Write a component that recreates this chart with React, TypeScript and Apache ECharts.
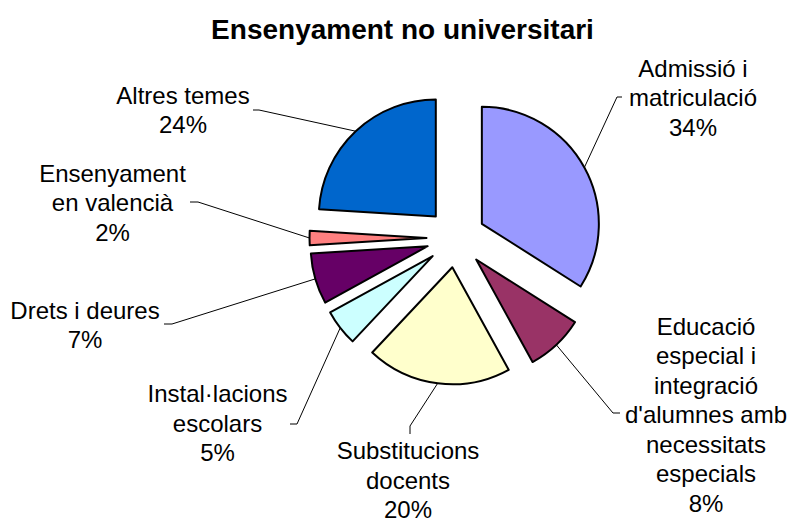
import React, { useEffect, useRef } from "react";
import * as echarts from "echarts";

const TITLE = "Ensenyament no universitari";
const categories = [
  "Admissió i\nmatriculació",
  "Educació\nespecial i\nintegració\nd'alumnes amb\nnecessitats\nespecials",
  "Substitucions\ndocents",
  "Instal·lacions\nescolars",
  "Drets i deures",
  "Ensenyament\nen valencià",
  "Altres temes",
];
const values = [34, 8, 20, 5, 7, 2, 24];
const colors = ["#9999FF", "#993366", "#FFFFCC", "#CCFFFF", "#660066", "#FF8080", "#0066CC"];

// layout (positions of label blocks and leader-line elbows)
const CENTER = [456, 238];
const RADIUS = 117;
const EXPLODE = 29.5;
const labelCenters = [
  [693, 97.5],
  [706, 414.5],
  [408, 480],
  [217.5, 423],
  [85, 325],
  [112.5, 202.5],
  [183, 110],
];
const leaderTails = [
  [[617, 97], [622, 97]],
  [[613, 413], [620, 413]],
  [[410, 426], [410, 434]],
  [[297, 424], [290, 424]],
  [[172, 324], [164, 324]],
  [[198, 202], [190, 202]],
  [[259, 110], [253, 110]],
];

const FONT = "'Liberation Sans', Arial, sans-serif";

export default function App() {
  const ref = useRef<HTMLDivElement>(null);
  useEffect(() => {
    if (!ref.current) return;
    const chart = echarts.init(ref.current, undefined, { renderer: "svg" });
    const total = values.reduce((a, b) => a + b, 0);
    let cum = 0;
    const geo = values.map((v) => {
      const mid = ((cum + v / 2) / total) * 2 * Math.PI;
      cum += v;
      const cx = CENTER[0] + EXPLODE * Math.sin(mid);
      const cy = CENTER[1] - EXPLODE * Math.cos(mid);
      const ax = cx + RADIUS * Math.sin(mid);
      const ay = cy - RADIUS * Math.cos(mid);
      return { cx, cy, ax, ay };
    });

    const series = values.map((_, i) => ({
      type: "pie",
      center: [geo[i].cx, geo[i].cy],
      radius: RADIUS,
      startAngle: 90,
      clockwise: true,
      avoidLabelOverlap: false,
      silent: true,
      emphasis: { disabled: true },
      z: 2,
      data: values.map((v, j) => ({
        value: v,
        name: categories[j],
        itemStyle:
          j === i
            ? { color: colors[j], borderColor: "#000", borderWidth: 2 }
            : { opacity: 0, borderWidth: 0 },
        label: { show: j === i },
        labelLine: { show: j === i },
      })),
      label: {
        position: "outside",
        color: "#000",
        fontFamily: FONT,
        fontSize: 24,
        lineHeight: 29.5,
        align: "center",
        formatter: (p: any) => `${p.name}\n${Math.round(p.percent)}%`,
      },
      labelLine: {
        show: true,
        length: 10,
        length2: 10,
        lineStyle: { color: "#000", width: 1 },
      },
      labelLayout: (p: any) => {
        const k = p.dataIndex;
        if (k !== i) return {};
        const g = geo[k];
        return {
          x: labelCenters[k][0],
          y: labelCenters[k][1],
          align: "center",
          verticalAlign: "middle",
          labelLinePoints: [[g.ax, g.ay], leaderTails[k][0], leaderTails[k][1]],
        };
      },
    }));

    chart.setOption({
      animation: false,
      backgroundColor: "#fff",
      graphic: [
        {
          type: "text",
          x: 402.5,
          y: 29.5,
          style: {
            text: TITLE,
            font: `bold 28px ${FONT}`,
            fill: "#000",
            align: "center",
            verticalAlign: "middle",
          },
        },
      ],
      series,
    });
    return () => chart.dispose();
  }, []);
  return (
    <div
      ref={ref}
      style={{ position: "fixed", left: 0, top: 0, width: 791, height: 522, background: "#fff" }}
    />
  );
}
